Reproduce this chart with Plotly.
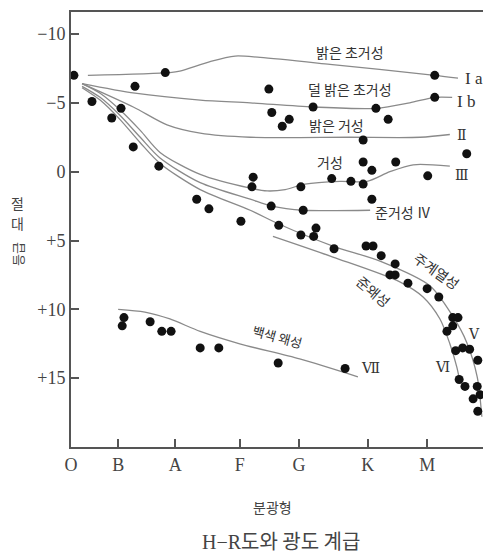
import plotly.graph_objects as go

# spectral position (O=0 ... right edge=72) and absolute magnitude of the stars
star_x = [0.5, 16.2, 11.0, 3.6, 8.6, 7.0, 10.7, 15.1, 21.6, 23.7, 29.2, 31.3, 31.1, 39.5,
          44.8, 48.1, 50.2, 50.2, 51.7, 55.8, 51.7, 34.4, 39.9, 35.7, 39.5, 42.1, 41.7, 45.2,
          50.7, 51.9, 53.3, 55.7, 54.8, 55.7, 62.5, 34.0, 62.5, 41.6, 52.4, 34.5, 36.3, 37.5,
          54.5, 50.2, 68.0, 61.3, 57.9, 61.2, 63.2, 65.6, 66.5, 65.6, 64.6, 66.1, 67.3, 68.5,
          69.9, 66.7, 67.7, 69.8, 70.3, 69.1, 69.9, 47.1, 35.6, 8.8, 9.1, 13.6, 15.6, 17.2,
          22.2, 25.4]
star_mag = [-7.0, -7.2, -6.2, -5.1, -4.6, -3.9, -1.8, -0.4, 2.0, 2.7, 3.6, 0.4, 1.1, 1.1,
            0.5, 0.7, 0.9, -0.7, -0.1, -0.7, 2.0, 2.5, 2.8, 3.9, 4.6, 4.1, 4.7, 5.6,
            5.4, 5.4, 6.1, 6.7, 7.5, 7.5, -7.0, -6.0, -5.4, -4.7, -4.6, -4.3, -3.3, -3.8,
            -3.8, -2.3, -1.3, 0.3, 8.1, 8.5, 9.1, 10.6, 10.6, 11.2, 11.6, 13.0, 12.8, 12.9,
            13.7, 15.1, 15.6, 15.6, 16.2, 16.5, 17.4, 14.3, 13.9, 11.2, 10.6, 10.9, 11.6, 11.6,
            12.8, 12.8]

# luminosity class curves
ia_x = [2.9, 17.0, 18.7, 23.9, 28.2, 32.5, 44.5, 62.5, 66.5]
ia_y = [-7.0, -7.2, -7.3, -8.0, -8.4, -8.3, -7.8, -7.0, -6.8]
ib_x = [1.9, 11.0, 22.2, 30.8, 41.6, 52.4, 58.2, 62.5, 65.5]
ib_y = [-6.4, -5.7, -5.2, -5.0, -4.7, -4.6, -5.0, -5.4, -5.4]
ii_x = [1.9, 10.7, 16.5, 22.2, 30.8, 47.9, 60.0, 65.1]
ii_y = [-6.4, -4.7, -3.4, -2.8, -2.5, -2.5, -2.5, -2.7]
iii_x = [1.9, 5.0, 8.4, 11.9, 15.3, 22.2, 30.8, 33.7, 36.8, 40.2, 46.2, 50.9, 54.8, 58.8, 65.1]
iii_y = [-6.4, -5.7, -4.5, -3.0, -1.4, 0.2, 1.2, 1.4, 1.3, 0.9, 0.7, 0.7, 0.0, -0.5, -0.4]
iv_x = [1.9, 5.0, 8.4, 11.9, 15.3, 22.2, 30.8, 34.5, 39.9, 51.4]
iv_y = [-6.2, -5.4, -4.1, -2.5, -1.0, 0.8, 2.0, 2.5, 2.8, 2.8]
v_x = [1.9, 5.0, 8.4, 11.9, 15.3, 22.2, 30.8, 35.7, 45.0, 53.1, 61.7, 65.6, 68.0, 69.8, 70.6]
v_y = [-6.1, -5.2, -3.8, -2.1, -0.6, 1.3, 2.8, 3.8, 5.4, 6.5, 8.3, 10.5, 12.4, 14.9, 17.8]
vi_x = [34.7, 45.0, 56.5, 60.5, 63.4, 65.1, 66.3, 66.8]
vi_y = [4.7, 6.2, 8.0, 9.1, 10.7, 12.5, 14.2, 15.2]
vii_x = [8.1, 12.7, 17.0, 22.2, 29.0, 39.3, 49.3]
vii_y = [10.0, 10.2, 10.7, 11.6, 12.5, 13.6, 14.9]

spec_vals = [0, 8.1, 17.9, 29.0, 39.2, 51.0, 61.2]
spec_text = ["O", "B", "A", "F", "G", "K", "M"]
mag_vals = [-10, -5, 0, 5, 10, 15]
mag_text = ["−10", "−5", "0", "+5", "+10", "+15"]

KR = "Noto Sans CJK KR"
SERIF = "Liberation Serif, DejaVu Serif, serif"
LINE = "#8a8a8a"

fig = go.Figure()
for cx, cy in [(ia_x, ia_y), (ib_x, ib_y), (ii_x, ii_y), (iii_x, iii_y), (iv_x, iv_y),
               (v_x, v_y), (vi_x, vi_y), (vii_x, vii_y)]:
    fig.add_trace(go.Scatter(x=cx, y=cy, mode="lines", cliponaxis=False,
                             line=dict(color=LINE, width=1.3, shape="spline", smoothing=0.8),
                             hoverinfo="skip"))

fig.add_trace(go.Scatter(x=star_x, y=star_mag, mode="markers", cliponaxis=False,
                         marker=dict(size=9, color="#111111")))

# curve labels (text, x, y, angle, font, size, anchor)
labels = [
    ("밝은 초거성", 47.9, -8.7, 0, KR, 14, "center"),
    ("덜 밝은 초거성", 47.9, -6.0, 0, KR, 14, "center"),
    ("밝은 거성", 45.7, -3.4, 0, KR, 14, "center"),
    ("거성", 44.5, -0.7, 0, KR, 14, "center"),
    ("준거성 Ⅳ", 57.0, 2.9, 0, KR, 14, "center"),
    ("주계열성", 62.9, 7.2, 35, KR, 14, "center"),
    ("준왜성", 51.9, 8.7, 40, KR, 14, "center"),
    ("백색 왜성", 35.4, 12.0, 15, KR, 13, "center"),
    ("Ⅶ", 51.4, 14.3, 0, SERIF, 14, "center"),
    ("I a", 67.4, -6.8, 0, SERIF, 17, "left"),
    ("I b", 66.0, -5.1, 0, SERIF, 17, "left"),
    ("Ⅱ", 67.2, -2.6, 0, SERIF, 14, "center"),
    ("Ⅲ", 67.2, 0.3, 0, SERIF, 14, "center"),
    ("Ⅴ", 69.2, 11.8, 0, SERIF, 14, "center"),
    ("Ⅵ", 63.9, 14.2, 0, SERIF, 14, "center"),
]
for txt, lx, ly, ang, fam, fs, anc in labels:
    fig.add_annotation(x=lx, y=ly, xref="x", yref="y", text=txt, showarrow=False,
                       textangle=ang, xanchor=anc,
                       font=dict(family=fam, size=fs, color="#333333"))

# axis titles
ttl = dict(xref="paper", yref="paper", showarrow=False, xanchor="center", yanchor="middle")
fig.add_annotation(x=-0.128, y=0.561, text="절", font=dict(family=KR, size=14, color="#444444"), **ttl)
fig.add_annotation(x=-0.128, y=0.516, text="대", font=dict(family=KR, size=14, color="#444444"), **ttl)
fig.add_annotation(x=-0.126, y=0.444, text="등급", textangle=-90,
                   font=dict(family=KR, size=13, color="#444444"), **ttl)
fig.add_annotation(x=0.48, y=-0.138, text="분광형", font=dict(family=KR, size=14, color="#444444"), **ttl)
fig.add_annotation(x=0.5, y=-0.215,
                   text="<span style='font-family:Liberation Serif'>H−R</span>도와 광도 계급",
                   font=dict(family=KR, size=20, color="#444444"), **ttl)

# page body has an 8px margin, so the figure is 8px smaller and margins shifted
fig.update_layout(
    width=483, height=547,
    margin=dict(l=63, r=1, t=4, b=108),
    paper_bgcolor="white", plot_bgcolor="white",
    showlegend=False,
    xaxis=dict(range=[0, 72], tickvals=spec_vals, ticktext=spec_text, automargin=False,
               ticks="inside", ticklen=8, tickwidth=1.5, tickcolor="#555555",
               showline=True, linecolor="#555555", linewidth=2, mirror=True,
               showgrid=False, zeroline=False,
               tickfont=dict(family=SERIF, size=18, color="#444444")),
    yaxis=dict(range=[20, -11.6], tickvals=mag_vals, ticktext=mag_text, automargin=False,
               ticks="inside", ticklen=8, tickwidth=1.5, tickcolor="#555555",
               showline=True, linecolor="#555555", linewidth=2,
               showgrid=False, zeroline=False,
               tickfont=dict(family=SERIF, size=18, color="#444444")),
)

fig.write_html("out.html")
